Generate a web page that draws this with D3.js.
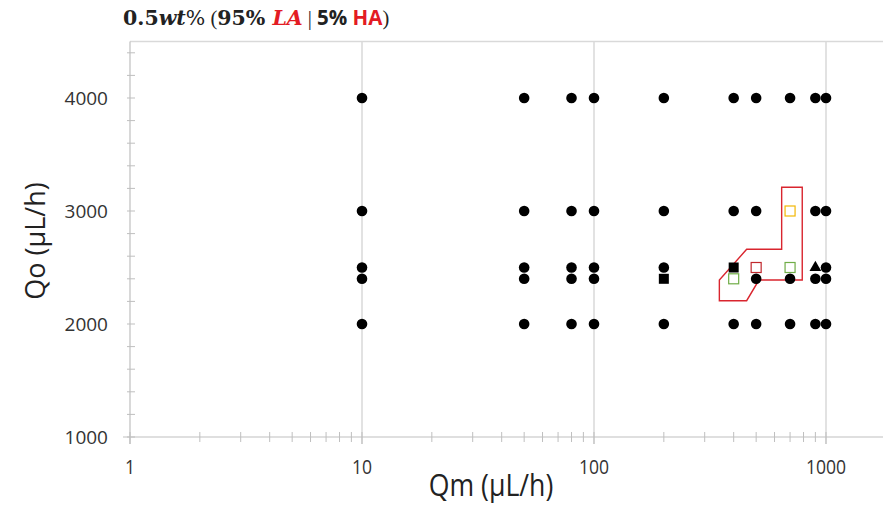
<!DOCTYPE html>
<html>
<head>
<meta charset="utf-8">
<script src="https://cdn.jsdelivr.net/npm/d3@7"></script>
<style>
  body { margin: 0; background: #fff; }
  svg { display: block; }
</style>
</head>
<body>
<div id="chart"></div>
<script>
// measured points (Qm, Qo) in uL/h
const circles = [
  [10, 4000], [10, 3000], [10, 2500], [10, 2400], [10, 2000],
  [50, 4000], [50, 3000], [50, 2500], [50, 2400], [50, 2000],
  [80, 4000], [80, 3000], [80, 2500], [80, 2400], [80, 2000],
  [100, 4000], [100, 3000], [100, 2500], [100, 2400], [100, 2000],
  [200, 4000], [200, 3000], [200, 2500], [200, 2000],
  [400, 4000], [400, 3000], [400, 2000],
  [500, 4000], [500, 3000], [500, 2400], [500, 2000],
  [700, 4000], [700, 2400], [700, 2000],
  [900, 4000], [900, 3000], [900, 2400], [900, 2000],
  [1000, 4000], [1000, 3000], [1000, 2500], [1000, 2400], [1000, 2000]
];
const blackSquares = [[200, 2400], [400, 2500]];
const blackTriangles = [[900, 2500]];
const greenSquares = [[400, 2400], [700, 2500]];
const redSquares = [[500, 2500]];
const yellowSquares = [[700, 3000]];
const boundary = [
  [644, 3210], [790, 3210], [790, 2389], [514, 2389], [455, 2206],
  [347, 2206], [347, 2389], [455, 2661], [644, 2661]
];
const xTickLabels = [1, 10, 100, 1000];
const yTickLabels = [1000, 2000, 3000, 4000];

const width = 883, height = 507;

const svg = d3.select("#chart").append("svg")
  .attr("width", width)
  .attr("height", height);

const x = d3.scaleLog().domain([1, 1000]).range([130, 826]);
const y = d3.scaleLinear().domain([1000, 4500]).range([437, 41.5]);

const grid = "#d9d9d9";
const axisCol = "#bfbfbf";

// top border
svg.append("line")
  .attr("x1", x(1)).attr("x2", width)
  .attr("y1", y(4500)).attr("y2", y(4500))
  .attr("stroke", grid).attr("stroke-width", 1.5);

// vertical gridlines at decades
svg.append("g").selectAll("line")
  .data(xTickLabels.slice(1))
  .join("line")
  .attr("x1", d => x(d)).attr("x2", d => x(d))
  .attr("y1", y(4500)).attr("y2", y(1000) + 7)
  .attr("stroke", grid).attr("stroke-width", 1.5);

// y axis
svg.append("line")
  .attr("x1", x(1)).attr("x2", x(1))
  .attr("y1", y(4500)).attr("y2", y(1000) + 7)
  .attr("stroke", axisCol).attr("stroke-width", 1.2);

svg.append("g").selectAll("line")
  .data(d3.range(1000, 4500, 200))
  .join("line")
  .attr("x1", x(1) - 3).attr("x2", x(1) + 5)
  .attr("y1", d => y(d)).attr("y2", d => y(d))
  .attr("stroke", axisCol).attr("stroke-width", 1);

svg.append("g").selectAll("text")
  .data(yTickLabels)
  .join("text")
  .attr("x", 108)
  .attr("y", d => y(d))
  .attr("dy", "0.36em")
  .attr("text-anchor", "end")
  .attr("font-family", "'Open Sans', sans-serif")
  .attr("font-size", 19)
  .attr("fill", "#333")
  .text(d => d);

// x axis
svg.append("line")
  .attr("x1", x(1) - 7).attr("x2", width)
  .attr("y1", y(1000)).attr("y2", y(1000))
  .attr("stroke", axisCol).attr("stroke-width", 1.2);

const xTicks = x.ticks();
svg.append("g").selectAll("line")
  .data(xTicks)
  .join("line")
  .attr("x1", d => x(d)).attr("x2", d => x(d))
  .attr("y1", y(1000) - 5).attr("y2", d => y(1000) + (xTickLabels.includes(d) ? 7 : 5))
  .attr("stroke", axisCol).attr("stroke-width", 1);

svg.append("g").selectAll("text")
  .data(xTickLabels)
  .join("text")
  .attr("transform", d => `translate(${x(d)},474) scale(0.9,1)`)
  .attr("text-anchor", "middle")
  .attr("font-family", "'Open Sans', sans-serif")
  .attr("font-size", 19.5)
  .attr("fill", "#333")
  .text(d => d);

// axis titles
svg.append("text")
  .attr("transform", "translate(491,496) scale(0.86,1)")
  .attr("text-anchor", "middle")
  .attr("font-family", "'Open Sans', sans-serif")
  .attr("font-size", 31)
  .attr("fill", "#222")
  .text("Qm (\u03bcL/h)");

svg.append("text")
  .attr("transform", "translate(45,241) rotate(-90)")
  .attr("text-anchor", "middle")
  .attr("font-family", "'Open Sans', sans-serif")
  .attr("font-size", 27)
  .attr("fill", "#222")
  .text("Qo (\u03bcL/h)");

// chart title
const title = svg.append("text")
  .attr("x", 123).attr("y", 25)
  .attr("font-size", 20.5)
  .attr("fill", "#222");
title.append("tspan").attr("font-family", "'DejaVu Serif', serif").attr("font-weight", "bold").text("0.5");
title.append("tspan").attr("font-family", "'DejaVu Serif', serif").attr("font-weight", "bold").attr("font-style", "italic").text("wt");
title.append("tspan").attr("font-family", "'DejaVu Serif', serif").text("%");
title.append("tspan").attr("font-family", "'Liberation Serif', serif").text(" (");
title.append("tspan").attr("font-family", "'DejaVu Serif', serif").attr("font-weight", "bold").text("95% ");
title.append("tspan").attr("font-family", "'DejaVu Serif', serif").attr("font-weight", "bold").attr("font-style", "italic").attr("fill", "#e31b23").text("LA");
title.append("tspan").attr("font-family", "'Liberation Serif', serif").text(" | ");
title.append("tspan").attr("font-family", "'Open Sans', sans-serif").attr("font-weight", "bold").text("5% ");
title.append("tspan").attr("font-family", "'Open Sans', sans-serif").attr("font-weight", "bold").attr("fill", "#e31b23").text("HA");
title.append("tspan").attr("font-family", "'Liberation Serif', serif").text(")");

// boundary polygon
svg.append("path")
  .datum(boundary)
  .attr("d", d3.line().x(d => x(d[0])).y(d => y(d[1])).curve(d3.curveLinearClosed))
  .attr("fill", "none")
  .attr("stroke", "#d9252e")
  .attr("stroke-width", 1.4);

// markers
svg.append("g").selectAll("circle")
  .data(circles)
  .join("circle")
  .attr("cx", d => x(d[0]))
  .attr("cy", d => y(d[1]))
  .attr("r", 5.3)
  .attr("fill", "#000");

svg.append("g").selectAll("rect")
  .data(blackSquares)
  .join("rect")
  .attr("x", d => x(d[0]) - 5)
  .attr("y", d => y(d[1]) - 5)
  .attr("width", 10).attr("height", 10)
  .attr("fill", "#000");

svg.append("g").selectAll("path")
  .data(blackTriangles)
  .join("path")
  .attr("transform", d => `translate(${x(d[0])},${y(d[1])})`)
  .attr("d", d3.symbol(d3.symbolTriangle, 60))
  .attr("fill", "#000");

const openSquares = [
  { pts: greenSquares, color: "#70ad47" },
  { pts: redSquares, color: "#c0282d" },
  { pts: yellowSquares, color: "#f2b705" }
];
openSquares.forEach(s => {
  svg.append("g").selectAll("rect")
    .data(s.pts)
    .join("rect")
    .attr("x", d => x(d[0]) - 5)
    .attr("y", d => y(d[1]) - 5)
    .attr("width", 10).attr("height", 10)
    .attr("fill", "#fff")
    .attr("stroke", s.color)
    .attr("stroke-width", 1.2);
});
</script>
</body>
</html>
